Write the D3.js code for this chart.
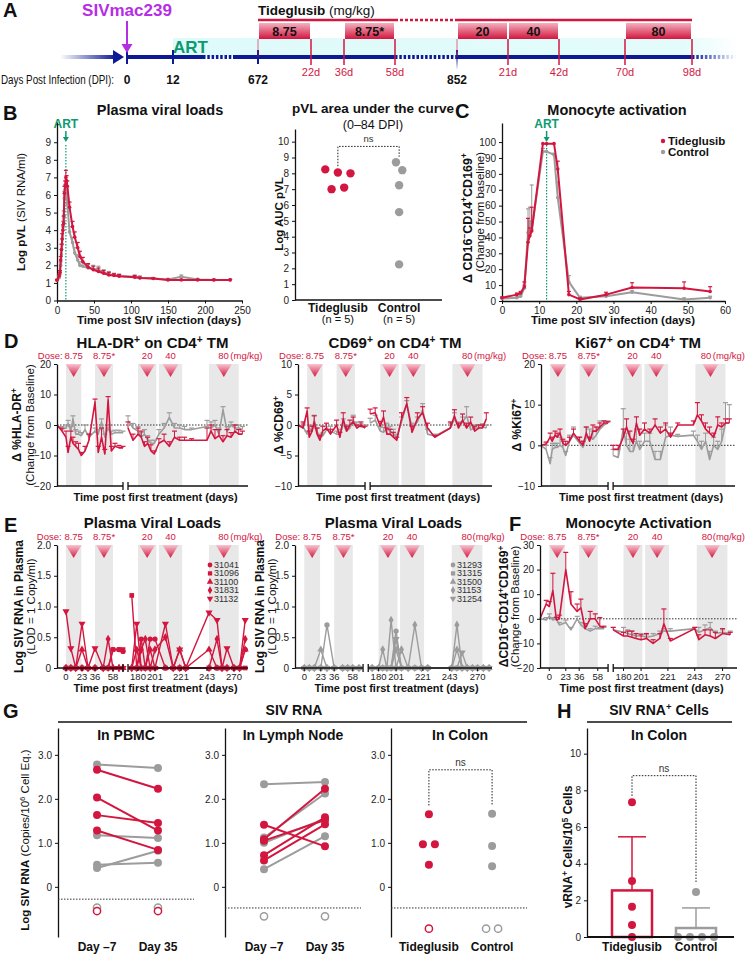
<!DOCTYPE html>
<html>
<head>
<meta charset="utf-8">
<script src="https://cdn.jsdelivr.net/npm/d3@7/dist/d3.min.js"></script>
<style>
  body { margin: 0; background: #fff; }
  text { font-family: "Liberation Sans", Arial, Helvetica, sans-serif; }
</style>
</head>
<body>
<div id="container"></div>
<script>
const RED = "#d3163f";
const GRAY = "#9c9c9c";
const NAVY = "#0c1a96";
const PURPLE = "#b62de6";
const GREEN = "#0d9a70";

// ---- A: study timeline (schematic, days) ----
const timelineDays = [0, 12, 672, 694, 708, 730, 852, 873, 894, 922, 950];
const timelinePos = [127, 173, 258, 311, 344, 395, 457, 508, 559, 625, 692];
const dpiTicks = [0, 12, 672, 852];
const doseBoxes = [["8.75", 672, 694], ["8.75*", 708, 730], ["20", 852, 873], ["40", 873, 894], ["80", 922, 950]];
const doseEnds = [[694, "22d"], [708, "36d"], [730, "58d"], [873, "21d"], [894, "42d"], [922, "70d"], [950, "98d"]];

// ---- B: plasma viral load [day, log pVL, sem] ----
const pvlTide = [[0,1.15,0.05],[3,1.4,0.1],[4,1.6,0.1],[5,2.3,0.2],[6,2.9,0.3],[7,3.5,0.3],[8,4.0,0.3],[9,4.4,0.4],[10,6.1,0.4],[11,6.5,0.3],[12,7.0,0.4],[13,6.8,0.3],[14,6.5,0.3],[17,5.3,0.3],[21,4.2,0.3],[24,3.6,0.3],[28,3.0,0.3],[31,2.5,0.3],[35,2.2,0.25],[42,1.9,0.2],[49,1.75,0.2],[56,1.65,0.2],[63,1.55,0.15],[70,1.45,0.15],[77,1.42,0.1],[84,1.38,0.1],[105,1.32,0.1],[112,1.28,0.05],[130,1.25,0.05],[150,1.17,0.03],[168,1.17,0.03],[190,1.17,0.03],[212,1.17,0.03],[234,1.17,0.03]];
const pvlCtrl = [[0,1.15,0.05],[3,1.3,0.1],[4,1.5,0.1],[5,2.0,0.2],[6,2.6,0.3],[7,3.2,0.3],[8,4.2,0.3],[9,4.8,0.3],[10,5.8,0.4],[11,6.3,0.3],[12,6.3,0.3],[13,6.0,0.3],[14,5.5,0.3],[17,3.9,0.3],[21,3.3,0.3],[24,2.7,0.3],[28,2.3,0.3],[31,2.0,0.2],[35,1.95,0.2],[42,1.85,0.2],[49,1.8,0.2],[56,1.75,0.2],[63,1.6,0.15],[70,1.5,0.15],[77,1.45,0.1],[84,1.4,0.1],[105,1.35,0.1],[112,1.3,0.1],[130,1.25,0.05],[150,1.2,0.05],[168,1.35,0.1],[190,1.2,0.05],[212,1.17,0.03],[234,1.17,0.03]];
const aucGroups = ["Tideglusib", "Control"];
const aucTide = [8.05, 7.0, 8.0, 7.1, 8.25];
const aucCtrl = [8.7, 8.2, 7.25, 5.55, 2.25];

// ---- C: monocyte activation [day, value, sem] ----
const monoTide = [[0,2,0.5],[4,4,1],[5,5,1],[6,9,3],[7,37,15],[7.5,41,5],[8,44,15],[11,99,0],[12,99,0],[14,99,0],[15,83,5],[18,4,2],[21,1,1],[28,4,1.5],[35,8.5,3],[49,8,4],[56,6,3]];
const monoCtrl = [[0,1.5,0.5],[4,2,1],[5,3,1],[6,8,2],[7,43,15],[7.5,50,9],[8,45,28],[11,94,2],[12,94,0],[14,92,1],[15,65,10],[18,12,4],[21,2,1],[28,3,1],[35,5.5,1],[49,1,1],[56,2,1]];

// ---- D/E/F: time post first treatment (broken axis) ----
const axisDays = [-9, 0, 23, 36, 58, 68, 172, 180, 201, 221, 243, 270, 285];
const axisFrac = [0, 9, 25, 38, 56, 66, 71, 81, 98, 124, 150, 177, 191];
const doseBands = [[0, 22], [36, 58], [180, 202], [204, 222], [245, 275]];
const doseNames = ["8.75", "8.75*", "20", "40", "80"];
const eTicks = [0, 23, 36, 58, 180, 201, 221, 243, 270];

const daysD = [-9,-4,0,3,7,10,14,18,22,26,30,36,40,44,48,52,56,60,64,68, 172,176,180,184,188,192,196,200,204,208,212,216,220,224,230,243,247,251,255,259,263,267,271,275,279];
const hlaTide = [0,-2,-4,-9,-4,-6,-7,-8,-10,-8.5, -5,7.5,-9,-4,-9.5,8.3,-8.5,-7,-7.5,-7.5, -1,-5,-3,-4,-7,-6,-8.5,-9.5,-6,-5, -7,-4,-5,-5,-5,-5,-2,-4.5,-3.5,-5.5, -3.5,-4,-2,-3,-3];
const hlaTideErr = [0,1,2,2,2,2,1.5,2,1,1.5, 2,1,2,3,1.5,1,1.5,1,0.8,0.5, 2,2,2,2,1.5,2,2,1,1.5,2, 1.5,2,1,1,0.5,4,2,3,2,2, 2,1.5,2,1.5,1];
const hlaCtrl = [0,-1.5,-1,0.5,-2,2,-3,-3,-3.5,-1.5, -4,-2,-3,1,-4,-1,-3,-2.5,-2.5,-2.5, 1.5,-1,-2,-4,-3,-5,-6,-6,-3,-1, 2.5,-1,-1,-1.5,-1.5,-0.5,-1,0,-3,5, -2,0,-1,-1,-1.5];
const hlaCtrlErr = [0,1,1,1,1.5,1,1.5,1,1,1.5, 1,1,1.5,1,1,1,1,0.8,0.8,0.5, 1.5,1.5,1.5,1.5,1.5,1.5,1,1,1.5,1.5, 1.5,1.5,1,1,0.5,2,2,1.5,2,1, 1.5,1,1,1,1];
const cd69Tide = [0,-0.5,2.3,-2,-1,0.5,-1.5,-2.5,-1,-0.5, -1.5,0,-2,1,-1,0,0.5,-0.5,0,-0.5, 1.8,2,-0.2,1.3,-1.5,-1.5,-2,-2.5,1,3.5, -1.2,1,2,-0.5,-2,-0.5,1.5,-0.5,0.8,-0.5, 0.5,-1,-0.5,-0.5,1];
const cd69TideErr = [0,1,0.5,1,0.8,1,1,0.8,0.8,0.8, 0.8,0.8,0.8,1,0.8,0.8,0.8,0.5,0.5,0.3, 0.8,0.8,0.8,1,1,0.8,0.8,0.5,1,1, 1,1,1,0.8,0.3,1,1,0.8,1,0.8, 0.8,0.8,0.5,0.5,1];
const cd69Ctrl = [0,-0.3,-1.5,-0.5,-1,0.8,-1,-2,-1.8,-0.8, -1,-1.5,-1.5,0.2,-1,-0.5,0.8,0,-0.3,-0.3, 0.3,0.8,-1,-1.2,-0.5,-1,-1.5,-2,0.5,3.5, -0.5,0.5,2.5,-1.5,-1.8,-0.5,1,-0.3,0.5,1.5, -0.8,-0.5,-0.5,-0.3,-0.5];
const cd69CtrlErr = [0,0.5,0.5,0.5,0.8,0.8,0.5,0.5,0.5,0.5, 0.8,0.5,0.8,0.8,0.5,0.5,0.8,0.5,0.5,0.3, 0.8,0.8,0.8,0.8,0.8,0.8,0.8,0.5,0.8,0.5, 0.8,0.8,1,0.8,0.3,0.8,1,0.8,0.8,1.5, 0.8,0.5,0.5,0.5,0.5];
const ki67Tide = [0,0.3,2,1,2.5,2,3,0.5,0,1, 3,1,0,3,1,3.5,3.5,4.5,5.5,5.5, -1,-1,2,4.5,2,0.5,5.5,2.5,4,3, 5,3,4,2,5,5,7.5,6,4,3, 2,5,4.5,5.5,5.5];
const ki67TideErr = [0,0.5,1,1,1,1,1,1,1,1, 1,1,1,1.5,1,1.5,1,1,0.5,0.3, 1,1,2,2,1.5,1,1.5,1.5,1.5,1, 1.5,1.5,1.5,1,0.5,1,3,1.5,1.5,1.5, 1,2,1,1,1];
const ki67Ctrl = [0,-1,-4.5,-1,-0.5,-0.5,0,-0.5,-2.5,1, 2.5,0.5,-0.5,2,2,1.5,2.5,4,5,5.5, -2.5,-3,4,0,-1.5,-1.5,1,-1,1,1, -3.5,-3.5,2,2.5,2.2,2.5,1,-1,1,-3.5, 0,-1,1,5.5,5.5];
const ki67CtrlErr = [0,1,1.5,1.5,1,1,2,1.5,1,1.5, 2,1.5,1.5,2.5,2,2,2,2,1,0.5, 1.5,2,5,3,3,2.5,3,2,2,2, 2,2,3,2,0.5,1,1.5,2,2,2, 2,2,3,5,4.5];

// E: plasma viral loads per animal
const daysE1 = [0,7,14,23,29,36,46,52,58,64,68, 175,179,184,189,195,201,209,215,220,225,245,253,258,263,270,276,282];
const tideAnimals = ["31041", "31096", "31100", "31831", "31132"];
const a31041 = [0,0,0,0,0,0,0,0,0.3,0.3,0.27, 0,0,0.47,0,0.47,0.47,0,0,0,0,0,0,0,0,0,0,0.3];
const a31096 = [0,0,0,0,0,0,0,0,0.3,0.3,0.3, 1.18,0,0,0,0,0,0,0,0,0,0,0,0,0,0,0,0];
const a31100 = [0,0,0,0.3,0,0,0,0,0,0,0, 0,0.3,0,0,0.3,0,0,0,0.3,0,0.3,0,0,0,0,0,0.3];
const a31831 = [0,0,0,0,0,0,0,0.47,0,0,0, 0,0,0.3,0.47,0,0.3,0.5,0,0,0,0,0.47,0,0,0,0,0.47];
const a31132 = [0.92,0.32,0,0.72,0,0.32,0,0,0,0,0, 0,0.72,0,0,0,0,0.72,0,0.3,0,0.9,0.78,0,0.32,0,0,0.78];
const daysE2 = [0,7,14,23,29,36,46,52,58,64, 175,180,185,190,195,201,205,210,215,220,225,245,250,255,260,265,270,276,282];
const ctrlAnimals = ["31293", "31315", "31500", "31153", "31254"];
const b31293 = [0,0,0,0,0.7,0,0,0,0,0, 0,0,0,0,0,0.6,0,0,0,0,0,0,0,0,0,0,0,0,0];
const b31315 = [0,0,0,0,0,0,0,0,0,0, 0,0,0,0,0,0,0,0,0,0,0,0,0,0,0,0,0,0,0];
const b31500 = [0,0,0,0.3,0,0,0,0,0,0, 0,0,0,0,0,0.3,0,0,0,0,0,0,0.3,0,0,0,0,0,0];
const b31153 = [0,0,0,0,0,0,0,0,0,0, 0,0,0.3,0,0.78,0,0.3,0,0.7,0,0,0,0.7,0,0,0,0,0,0];
const b31254 = [0,0,0,0,0,0,0,0,0,0, 0,0,0,0,0,0.47,0,0,0,0,0,0,0,0.25,0,0,0,0,0];

// F: monocyte activation after treatment
const daysF = [-9,-3,0,5,10,14,23,28,34,38,43,49,55,60,64, 172,180,185,190,195,201,205,210,215,218,223,243,247,253,258,263,270,278];
const monoTTide = [0,6,5,11.5,-0.5,0,20,6,3,4.5,-4,0,0,-3,-3.5, -4.5,-7,-7,-7.5,-8,-8.5,-8,-10,-8,-2,-9,-4,-8.5,-6.5,-7,-8,-6,-6.5];
const monoTTideErr = [0,1.5,2,7,1,1.5,7,5,3,3.5,2,3,2,3.5,0.5, 1,1.5,2,2.5,2,2,2,1.5,2,6,1,0.5,2,2,2.5,2.5,2,1];
const monoTCtrl = [0,-0.5,1,-0.5,0,-2.5,-1.5,-4.5,0,-2.5,-4,-5,-4,-4,-4, -4.5,-5.5,-6,-6.5,-7,-7,-7.5,-7,-6,-5,-5,-4,-5.5,-4.5,-3.5,-6,-5.5,-6];
const monoTCtrlErr = [0,1,1,1,1,1,1,1,1,1,1,1,1,0.5,0.5, 1,2,1.5,1.5,1,1,1,1,1,1,1,0.5,2,2,2,1,1,1];

// ---- G: SIV RNA (log copies / 1e6 cell eq.), pairs [Day -7, Day 35] ----
const pairDays = ["Day \u20137", "Day 35"];
const pbmcTide = [[2.66, 2.23], [2.03, 1.28], [1.63, 1.45], [1.28, 0.84]];
const pbmcCtrl = [[2.78, 2.70], [1.17, 1.11], [0.50, 0.55], [0.43, 0.82]];
const pbmcTideLod = [[-0.55, -0.55]];
const pbmcCtrlLod = [[-0.47, -0.47]];
const lnTide = [[1.41, 0.92], [1.08, 2.23], [0.72, 1.58], [0.60, 1.42], [1.05, 1.52]];
const lnCtrl = [[2.33, 2.38], [1.12, 2.12], [1.0, 1.55], [0.4, 1.15]];
const lnCtrlLod = [[-0.67, -0.67]];
const colonTide = [1.65, 0.97, 0.97, 0.5];
const colonCtrl = [1.66, 0.93, 0.47];
const colonTideLod = [-0.95];
const colonCtrlLod = [-0.95, -0.95];

// ---- H: vRNA+ cells / 1e5 cells ----
const hTide = [7.35, 3.05, 1.65, 0.65, 0];
const hCtrl = [2.45, 0, 0, 0, 0];

// ================= drawing =================
const svg = d3.select("#container").append("svg")
  .attr("width", 747).attr("height", 954).style("display", "block");
const defs = svg.append("defs");

function gradient(id, stops, attrs) {
  const lg = defs.append("linearGradient").attr("id", id);
  Object.entries(attrs).forEach(([k, v]) => lg.attr(k, v));
  stops.forEach(s => lg.append("stop").attr("offset", s[0]).attr("stop-color", s[1]).attr("stop-opacity", s[2] == null ? 1 : s[2]));
}
gradient("boxGrad", [[0, "#f3b0bf"], [1, RED]], {x1: 0, y1: 0, x2: 0, y2: 1});
gradient("triGrad", [[0, "#f8c6d1"], [1, RED]], {x1: 0, y1: 0, x2: 0, y2: 1});
gradient("artGrad", [[0, "#dffafa"], [0.9, "#e3fbfb"], [1, "#ffffff"]], {x1: 0, y1: 0, x2: 1, y2: 0});
gradient("fadeIn", [[0, NAVY, 0], [1, NAVY]], {gradientUnits: "userSpaceOnUse", x1: 60, y1: 0, x2: 116, y2: 0});
gradient("fadeOut", [[0, NAVY], [1, NAVY, 0]], {gradientUnits: "userSpaceOnUse", x1: 692, y1: 0, x2: 737, y2: 0});
gradient("tickFade", [[0, NAVY], [1, NAVY, 0]], {gradientUnits: "userSpaceOnUse", x1: 0, y1: 50, x2: 0, y2: 70});

function rich(t, str) {
  str.split(/(\^\{[^}]*\}|_\{[^}]*\}|#\{[^}]*\})/).forEach(p => {
    if (!p) return;
    const s = t.append("tspan");
    if (p.startsWith("^{")) s.attr("baseline-shift", "super").attr("font-size", "68%").text(p.slice(2, -1));
    else if (p.startsWith("_{")) s.attr("baseline-shift", "sub").attr("font-size", "68%").text(p.slice(2, -1));
    else if (p.startsWith("#{")) s.attr("font-weight", "bold").text(p.slice(2, -1));
    else s.text(p);
  });
}

function label(x, y, str, o = {}) {
  const t = svg.append("text").attr("x", x).attr("y", y)
    .attr("font-size", o.size || 11)
    .attr("font-weight", o.bold ? "bold" : null)
    .attr("fill", o.fill || "#111")
    .attr("text-anchor", o.anchor || "middle");
  if (o.rot) t.attr("transform", `rotate(-90,${x},${y})`);
  if (o.fit) t.attr("textLength", o.fit).attr("lengthAdjust", "spacingAndGlyphs");
  rich(t, str);
  return t;
}

function styleAxis(g) {
  g.attr("font-family", null);
  g.select(".domain").attr("stroke", "#111").attr("stroke-width", 1.3);
  g.selectAll(".tick line").attr("stroke", "#111");
  g.selectAll(".tick text").attr("fill", "#222").attr("font-size", 10);
}

function yAxis(x, scale, ticks, fmt) {
  return svg.append("g").attr("transform", `translate(${x},0)`)
    .call(d3.axisLeft(scale).tickValues(ticks).tickSize(3).tickSizeOuter(0).tickFormat(fmt || null))
    .call(styleAxis);
}

function xAxis(y, scale, ticks) {
  return svg.append("g").attr("transform", `translate(0,${y})`)
    .call(d3.axisBottom(scale).tickValues(ticks).tickSize(3).tickSizeOuter(0))
    .call(styleAxis);
}

function hline(x1, x2, y, o = {}) {
  return svg.append("line").attr("x1", x1).attr("x2", x2).attr("y1", y).attr("y2", y)
    .attr("stroke", o.stroke || "#111").attr("stroke-width", o.w || 1)
    .attr("stroke-dasharray", o.dash || null);
}
function vline(x, y1, y2, o = {}) {
  return svg.append("line").attr("x1", x).attr("x2", x).attr("y1", y1).attr("y2", y2)
    .attr("stroke", o.stroke || "#111").attr("stroke-width", o.w || 1)
    .attr("stroke-dasharray", o.dash || null).attr("stroke-opacity", o.op || null);
}

function drawSeries(g, data, x, y, color, o = {}) {
  const cap = o.cap || 2;
  data.filter(d => d[2] > 0).forEach(d => {
    const xx = x(d[0]), y1 = y(d[1]), y2 = y(d[1] + d[2]);
    g.append("line").attr("x1", xx).attr("x2", xx).attr("y1", y1).attr("y2", y2).attr("stroke", color).attr("stroke-width", 1);
    g.append("line").attr("x1", xx - cap).attr("x2", xx + cap).attr("y1", y2).attr("y2", y2).attr("stroke", color).attr("stroke-width", 1.2);
  });
  g.append("path").datum(data).attr("d", d3.line().x(d => x(d[0])).y(d => y(d[1])))
    .attr("fill", "none").attr("stroke", color).attr("stroke-width", o.lw || 2).attr("stroke-linejoin", "round");
  if (o.r) g.selectAll(null).data(data).join("circle")
    .attr("cx", d => x(d[0])).attr("cy", d => y(d[1])).attr("r", o.r).attr("fill", color);
}

function swarm(vals, y, cx, r) {
  const step = r * 1.5, minD = 2 * r + 1;
  const placed = [];
  vals.forEach(v => {
    const py = y(v);
    for (let k = 0; k < 30; k++) {
      const off = k === 0 ? 0 : (k % 2 ? 1 : -1) * Math.ceil(k / 2) * step;
      if (placed.every(p => Math.hypot(p.x - (cx + off), p.y - py) >= minD)) { placed.push({x: cx + off, y: py, v}); break; }
    }
  });
  const sorted = placed.slice().sort((a, b) => a.y - b.y);
  let grp = [];
  const flush = () => { const m = d3.mean(grp, p => p.x) - cx; grp.forEach(p => { p.x -= m; }); grp = []; };
  sorted.forEach(p => { if (grp.length && p.y - grp[grp.length - 1].y >= minD) flush(); grp.push(p); });
  if (grp.length) flush();
  return placed;
}

function dots(pts, r, color, open) {
  svg.selectAll(null).data(pts).join("circle")
    .attr("cx", d => d.x).attr("cy", d => d.y).attr("r", r)
    .attr("fill", open ? "#fff" : color).attr("stroke", open ? color : "none").attr("stroke-width", open ? 1.5 : 0);
}

function nsBracket(xl, xr, yTop, yl, yr, size) {
  const g = svg.append("g").attr("stroke", "#222").attr("stroke-width", 1).attr("stroke-dasharray", "1.5,1.5").attr("fill", "none");
  g.append("path").attr("d", `M${xl},${yl}V${yTop}H${xr}V${yr}`);
  label((xl + xr) / 2, yTop - 4, "ns", {size: size || 10, fill: "#333"});
}

function artMark(x, yText, yLineTop, yBottom) {
  label(x, yText, "ART", {size: 12, bold: true, fill: GREEN});
  vline(x, yText + 3, yText + 10, {stroke: GREEN, w: 1.5});
  svg.append("path").attr("d", `M${x - 3},${yText + 9}L${x + 3},${yText + 9}L${x},${yText + 14}Z`).attr("fill", GREEN);
  vline(x, yLineTop, yBottom, {stroke: GREEN, w: 1.2, dash: "1.5,1.5"});
}

// panel letters
[["A", 3, 17], ["B", 3, 120], ["C", 455, 118], ["D", 4, 348], ["E", 4, 532], ["F", 509, 531], ["G", 3, 718], ["H", 557, 718]]
  .forEach(l => label(l[1], l[2], l[0], {size: 20, bold: true, anchor: "start"}));

// ================= A =================
const tl = d3.scaleLinear().domain(timelineDays).range(timelinePos);
const AY = 57;
const artEnd = tl(950) + 45;
svg.append("rect").attr("x", tl(12)).attr("y", 38).attr("width", artEnd - tl(12)).attr("height", AY - 38).attr("fill", "url(#artGrad)");
label(tl(12), 53, "ART", {size: 17, bold: true, fill: GREEN, anchor: "start"});

svg.append("rect").attr("x", 60).attr("y", AY - 2).attr("width", 56).attr("height", 4).attr("fill", "url(#fadeIn)");
svg.append("path").attr("d", `M113,${AY - 7}L124,${AY}L113,${AY + 7}Z`).attr("fill", NAVY);
const blueSeg = (x1, x2, dash, stroke) => hline(x1, x2, AY, {stroke: stroke || NAVY, w: 4, dash: dash ? "2.5,1.8" : null});
blueSeg(tl(0), tl(12) + 30, false);
blueSeg(tl(12) + 30, tl(672) - 25, true);
blueSeg(tl(672) - 25, tl(730), false);
blueSeg(tl(730), tl(852), true);
blueSeg(tl(852), tl(950), false);
blueSeg(tl(950), artEnd, true, "url(#fadeOut)");

label(1, 84, "Days Post Infection (DPI):", {size: 12, anchor: "start", fit: 113});
dpiTicks.forEach(d => {
  vline(tl(d), AY - 7, AY + (d === 852 ? 12 : 7), {stroke: d === 852 ? "url(#tickFade)" : NAVY, w: 2});
  label(tl(d), 84, String(d), {size: 12, bold: true});
});

// SIV infection arrow
label(tl(0), 16, "SIVmac239", {size: 17, bold: true, fill: PURPLE});
vline(tl(0), 21, 45, {stroke: PURPLE, w: 2});
svg.append("path").attr("d", `M${tl(0) - 5.5},44L${tl(0) + 5.5},44L${tl(0)},53Z`).attr("fill", PURPLE);

// tideglusib dosing
label(tl(672), 15, "#{Tideglusib} (mg/kg)", {size: 13.5, anchor: "start"});
hline(tl(672), tl(730), 20, {stroke: RED, w: 2.5});
hline(tl(730), tl(852), 20, {stroke: RED, w: 2.5, dash: "3,2"});
hline(tl(852), tl(950), 20, {stroke: RED, w: 2.5});
[672, 852].forEach(d => vline(tl(d), 39, AY, {stroke: RED, w: 1, op: 0.6}));
doseEnds.forEach(e => {
  vline(tl(e[0]), 39, 65, {stroke: RED, w: 1.5});
  label(tl(e[0]), 76, e[1], {size: 11, fill: RED});
});
doseBoxes.forEach(b => {
  svg.append("rect").attr("x", tl(b[1]) + 1).attr("y", 23).attr("width", tl(b[2]) - tl(b[1]) - 2).attr("height", 16).attr("fill", "url(#boxGrad)");
  label((tl(b[1]) + tl(b[2])) / 2, 36, b[0], {size: 12.5, bold: true});
});

// ================= B (left) =================
const bX = d3.scaleLinear().domain([0, 250]).range([57, 242]);
const bY = d3.scaleLinear().domain([0, 10.15]).range([300.5, 122]);
label(160, 115, "Plasma viral loads", {size: 14.5, bold: true});
artMark(bX(12), 128, 145, 300);
yAxis(57, bY, d3.range(0, 10));
xAxis(300.5, bX, d3.range(0, 251, 50));
const gB = svg.append("g");
drawSeries(gB, pvlCtrl, bX, bY, GRAY, {lw: 2, r: 1.8, cap: 2});
drawSeries(gB, pvlTide, bX, bY, RED, {lw: 2, r: 1.8, cap: 2});
label(25, 212, "#{Log pVL} (SIV RNA/ml)", {size: 11.5, rot: true});
label(159, 324, "Time post SIV infection (days)", {size: 11.5, bold: true});

// ================= B (right) =================
const aucX = d3.scalePoint().domain(aucGroups).range([295, 442]).padding(0.7);
const aucY = d3.scaleLinear().domain([0, 10.8]).range([300, 129]);
label(373, 113, "pVL area under the curve", {size: 13.5, bold: true});
label(373, 129, "(0\u201384 DPI)", {size: 12.5});
yAxis(295, aucY, d3.range(0, 11));
hline(295, 442, 300, {w: 1.3});
dots(swarm(aucTide, aucY, aucX("Tideglusib"), 4.2), 4.2, RED);
dots(swarm(aucCtrl, aucY, aucX("Control"), 4.2), 4.2, GRAY);
nsBracket(aucX("Tideglusib"), aucX("Control"), aucY(9.7), aucY(8.45), aucY(9.05), 9.5);
aucGroups.forEach(gname => {
  label(aucX(gname), 312, gname, {size: 12, bold: true});
  label(aucX(gname), 323, "(n = 5)", {size: 11});
});
label(283, 214, "Log AUC pVL", {size: 11.5, bold: true, rot: true});

// ================= C =================
const cX = d3.scaleLinear().domain([0, 60]).range([502, 725]);
const cY = d3.scaleLinear().domain([0, 112]).range([301, 123]);
label(617, 115, "Monocyte activation", {size: 14.5, bold: true});
artMark(cX(12), 128, 145, 301);
yAxis(502, cY, d3.range(0, 101, 10));
xAxis(301, cX, d3.range(0, 61, 10));
const gC = svg.append("g");
drawSeries(gC, monoCtrl, cX, cY, GRAY, {lw: 2, r: 1.8, cap: 2});
drawSeries(gC, monoTide, cX, cY, RED, {lw: 2, r: 1.8, cap: 2});
[["Tideglusib", RED, 145], ["Control", GRAY, 156]].forEach(l => {
  svg.append("circle").attr("cx", 663).attr("cy", l[2] - 4).attr("r", 2.2).attr("fill", l[1]);
  label(668, l[2], l[0], {size: 11.5, bold: true, anchor: "start"});
});
label(472, 218, "\u0394 CD16^{\u2013}CD14^{+}CD169^{+}", {size: 12.5, bold: true, rot: true});
label(484, 212, "(Change from baseline)", {size: 11.5, rot: true});
label(613, 324, "Time post SIV infection (days)", {size: 11.5, bold: true});

// ================= D / E / F frames =================
function treatFrame(p) {
  const g = svg.append("g");
  const k = (p.x1 - p.x0) / 191;
  const x = d3.scaleLinear().domain(axisDays).range(axisFrac.map(f => p.x0 + f * k));
  const y = d3.scaleLinear().domain(p.yDomain).range([p.yBot, p.yTop]);
  g.selectAll(null).data(doseBands).join("rect")
    .attr("x", d => x(d[0])).attr("width", d => x(d[1]) - x(d[0]))
    .attr("y", p.yTop).attr("height", p.yBot - p.yTop).attr("fill", "#e8e8e8");
  const centers = doseBands.map(d => (x(d[0]) + x(d[1])) / 2);
  g.selectAll(null).data(centers).join("path")
    .attr("d", c => `M${c - 8},${p.yTop}L${c + 8},${p.yTop}L${c},${p.yTop + 13}Z`).attr("fill", "url(#triGrad)");
  const dl = p.yTop - 5;
  label(centers[0] - p.doseGap, dl, "Dose:", {size: 9.5, fill: RED, anchor: "end"});
  doseNames.slice(0, 4).forEach((n, i) => label(centers[i], dl, n, {size: 9.5, fill: RED}));
  // last dose + unit, kept inside the picture
  const mg = label(centers[4] + p.mgGap, dl, "(mg/kg)", {size: 9.5, fill: RED, anchor: "start"});
  const mgLen = mg.node().getComputedTextLength();
  const mgX = Math.min(centers[4] + p.mgGap, 745 - mgLen);
  mg.attr("x", mgX);
  label(mgX - p.mgGap + 5, dl, doseNames[4], {size: 9.5, fill: RED, anchor: "end"});
  if (p.zero) g.append("line").attr("x1", p.x0).attr("x2", p.x1).attr("y1", y(0)).attr("y2", y(0))
    .attr("stroke", "#333").attr("stroke-width", 1).attr("stroke-dasharray", "1.5,1.5");
  yAxis(p.x0, y, p.yTicks, p.fmt);
  const b1 = x(68), b2 = x(172);
  [[p.x0, b1], [b2, p.x1]].forEach(s => hline(s[0], s[1], p.yBot, {w: 1.3}));
  [b1, b2].forEach(b => vline(b, p.yBot - 4, p.yBot + 4, {w: 1.3}));
  if (p.xTicks) eTicks.forEach(t => {
    vline(x(t), p.yBot, p.yBot + 3);
    label(x(t), p.yBot + 12, String(t), {size: 9.5, fill: "#222"});
  });
  label((p.x0 + p.x1) / 2, p.titleY, p.title, {size: 15, bold: true});
  label((p.x0 + p.x1) / 2 + 3, p.xLabY, "Time post first treatment (days)", {size: 11, bold: true});
  label(p.yl1x, (p.yTop + p.yBot) / 2, p.yl1, {size: 12, bold: true, rot: true});
  if (p.yl2) label(p.yl2x, (p.yTop + p.yBot) / 2, p.yl2, {size: 11.5, rot: true});
  return {g, x, y};
}

function treatSeries(fr, days, vals, errs, color) {
  const pts = days.map((d, i) => [d, vals[i], errs[i]]);
  [pts.filter(p => p[0] < 100), pts.filter(p => p[0] > 100)]
    .forEach(s => drawSeries(fr.g, s, fr.x, fr.y, color, {lw: 1.6, cap: 2.5}));
}

const dBase = {yTop: 364, yBot: 486, titleY: 348, xLabY: 501, zero: true, doseGap: 11, mgGap: 6.5};
const d1 = treatFrame(Object.assign({}, dBase, {x0: 57, x1: 248, yDomain: [-20, 20], yTicks: [-20, -10, 0, 10, 20],
  title: "HLA-DR^{+} on CD4^{+} TM", yl1: "\u0394 %HLA-DR^{+}", yl1x: 21, yl2: "(Change from Baseline)", yl2x: 34}));
treatSeries(d1, daysD, hlaCtrl, hlaCtrlErr, GRAY);
treatSeries(d1, daysD, hlaTide, hlaTideErr, RED);

const d2 = treatFrame(Object.assign({}, dBase, {x0: 298, x1: 492, yDomain: [-10, 10], yTicks: [-10, -5, 0, 5, 10],
  title: "CD69^{+} on CD4^{+} TM", yl1: "\u0394 %CD69^{+}", yl1x: 283}));
treatSeries(d2, daysD, cd69Ctrl, cd69CtrlErr, GRAY);
treatSeries(d2, daysD, cd69Tide, cd69TideErr, RED);

const d3p = treatFrame(Object.assign({}, dBase, {x0: 541, x1: 735, yDomain: [-10, 20], yTicks: [-10, 0, 10, 20],
  title: "Ki67^{+} on CD4^{+} TM", yl1: "\u0394 %Ki67^{+}", yl1x: 521}));
treatSeries(d3p, daysD, ki67Ctrl, ki67CtrlErr, GRAY);
treatSeries(d3p, daysD, ki67Tide, ki67TideErr, RED);

// ---- E ----
const symTypes = [d3.symbolCircle, d3.symbolSquare, d3.symbolTriangle, d3.symbolDiamond, d3.symbolTriangle];
const eFmt = d => d === 0 ? "0" : d3.format(".1f")(d);
const eBase = {yTop: 545, yBot: 668, titleY: 528, xLabY: 692, xTicks: true, yDomain: [0, 2], yTicks: [0, 0.5, 1, 1.5, 2], fmt: eFmt,
  title: "Plasma Viral Loads", yl1: "Log SIV RNA in Plasma", yl2: "(LOD = 1 Copy/ml)", doseGap: 12};

function animal(fr, days, vals, color, i) {
  const pts = days.map((d, j) => [d, vals[j]]);
  [pts.filter(p => p[0] < 100), pts.filter(p => p[0] > 100)].forEach(s => {
    fr.g.append("path").datum(s).attr("d", d3.line().x(d => fr.x(d[0])).y(d => fr.y(d[1])))
      .attr("fill", "none").attr("stroke", color).attr("stroke-width", 1.4);
  });
  fr.g.selectAll(null).data(pts).join("path")
    .attr("d", d3.symbol().type(symTypes[i]).size(22))
    .attr("transform", d => `translate(${fr.x(d[0])},${fr.y(d[1])})${i === 4 ? " rotate(180)" : ""}`)
    .attr("fill", color);
}
function eLegend(x, y0, names, color) {
  names.forEach((n, i) => {
    const yy = y0 + i * 8.4;
    svg.append("path").attr("d", d3.symbol().type(symTypes[i]).size(18))
      .attr("transform", `translate(${x},${yy})${i === 4 ? " rotate(180)" : ""}`).attr("fill", color);
    label(x + 4, yy + 3, n, {size: 9, anchor: "start", fill: "#333"});
  });
}

const e1 = treatFrame(Object.assign({}, eBase, {x0: 57, x1: 248, yl1x: 23, yl2x: 35, mgGap: 6.5}));
[a31041, a31096, a31100, a31831, a31132].forEach((v, i) => animal(e1, daysE1, v, RED, i));
eLegend(210, 565, tideAnimals, RED);

const e2 = treatFrame(Object.assign({}, eBase, {x0: 295, x1: 492, yl1x: 264, yl2x: 276, mgGap: 5.5}));
[b31293, b31315, b31500, b31153, b31254].forEach((v, i) => animal(e2, daysE2, v, GRAY, i));
eLegend(453, 565, ctrlAnimals, GRAY);

// ---- F ----
const f1 = treatFrame({yTop: 545, yBot: 668, titleY: 528, xLabY: 692, xTicks: true, zero: true,
  x0: 540, x1: 737, yDomain: [-20, 30], yTicks: [-20, -10, 0, 10, 20, 30], doseGap: 12, mgGap: 5.5,
  title: "Monocyte Activation", yl1: "\u0394CD16^{\u2013}CD14^{+}CD169^{+}", yl1x: 508, yl2: "(Change from Baseline)", yl2x: 519});
treatSeries(f1, daysF, monoTCtrl, monoTCtrlErr, GRAY);
treatSeries(f1, daysF, monoTTide, monoTTideErr, RED);

// ================= G =================
const gY = d3.scaleLinear().domain([-1.14, 3.61]).range([937, 728]);
const gFmt = d => d === 0 ? "0" : d.toFixed(1);
label(294, 715, "SIV RNA", {size: 14, bold: true});
hline(58, 527, 722, {w: 1.5});

function pairPanel(x0, title, lod, red, gray, redLod, grayLod) {
  const x = d3.scalePoint().domain(pairDays).range([x0, x0 + 139]).padding(0.64);
  yAxis(x0, gY, [0, 1, 2, 3], gFmt);
  label(x0 + 68, 740, title, {size: 14, bold: true});
  hline(x0, x0 + 136, gY(lod), {stroke: "#333", dash: "1.5,1.5"});
  [[gray, GRAY], [red, RED]].forEach(([set, col]) => {
    set.forEach(pr => {
      svg.append("line").attr("x1", x(pairDays[0])).attr("x2", x(pairDays[1]))
        .attr("y1", gY(pr[0])).attr("y2", gY(pr[1])).attr("stroke", col).attr("stroke-width", 2);
      dots(pr.map((v, i) => ({x: x(pairDays[i]), y: gY(v)})), 4, col);
    });
  });
  [[grayLod, GRAY], [redLod, RED]].forEach(([set, col]) => set.forEach(pr =>
    dots(pr.map((v, i) => ({x: x(pairDays[i]), y: gY(v)})), 3.6, col, true)));
  pairDays.forEach(d => label(x(d), 951, d, {size: 12, bold: true}));
}
pairPanel(58, "In PBMC", -0.28, pbmcTide, pbmcCtrl, pbmcTideLod, pbmcCtrlLod);
pairPanel(225, "In Lymph Node", -0.48, lnTide, lnCtrl, [], lnCtrlLod);

// colon
const colX = d3.scalePoint().domain(aucGroups).range([391, 530]).padding(0.6);
yAxis(391, gY, [0, 1, 2, 3], gFmt);
label(460, 740, "In Colon", {size: 14, bold: true});
hline(391, 527, gY(-0.48), {stroke: "#333", dash: "1.5,1.5"});
dots(swarm(colonTide, gY, colX("Tideglusib"), 4), 4, RED);
dots(swarm(colonCtrl, gY, colX("Control"), 4), 4, GRAY);
dots(swarm(colonTideLod, gY, colX("Tideglusib"), 4), 3.6, RED, true);
dots(swarm(colonCtrlLod, gY, colX("Control"), 4), 3.6, GRAY, true);
nsBracket(colX("Tideglusib"), colX("Control"), gY(2.66), gY(1.85), gY(1.85), 10);
aucGroups.forEach(gname => label(colX(gname), 951, gname, {size: 12, bold: true}));
label(29, 840, "#{Log SIV RNA} (Copies/10^{6} Cell Eq.)", {size: 11.5, rot: true});

// ================= H =================
const hX = d3.scalePoint().domain(aucGroups).range([600, 728]).padding(0.5);
const hY = d3.scaleLinear().domain([0, 11.4]).range([937, 728]);
label(659, 715, "SIV RNA^{+} Cells", {size: 14, bold: true});
hline(587, 732, 722, {w: 1.5});
label(659, 740, "In Colon", {size: 14, bold: true});
yAxis(587, hY, d3.range(0, 11, 2));
[[hTide, RED, "Tideglusib"], [hCtrl, GRAY, "Control"]].forEach(([vals, col, gname]) => {
  const cx = hX(gname), m = d3.mean(vals), sd = d3.deviation(vals);
  svg.append("rect").attr("x", cx - 20).attr("y", hY(m)).attr("width", 40).attr("height", hY(0) - hY(m))
    .attr("fill", "none").attr("stroke", col).attr("stroke-width", 2.5);
  vline(cx, hY(m), hY(m + sd), {stroke: col, w: 1.5});
  hline(cx - 14, cx + 14, hY(m + sd), {stroke: col, w: 1.5});
  dots(swarm(vals, hY, cx, 4), 4, col);
  label(cx, 951, gname, {size: 12, bold: true});
});
hline(587, 734, 937, {w: 2});
nsBracket(hX("Tideglusib"), hX("Control"), hY(8.8), hY(7.7), hY(2.95), 10);
label(572, 847, "vRNA^{+} Cells/10^{5} Cells", {size: 12, bold: true, rot: true});
</script>
</body>
</html>
